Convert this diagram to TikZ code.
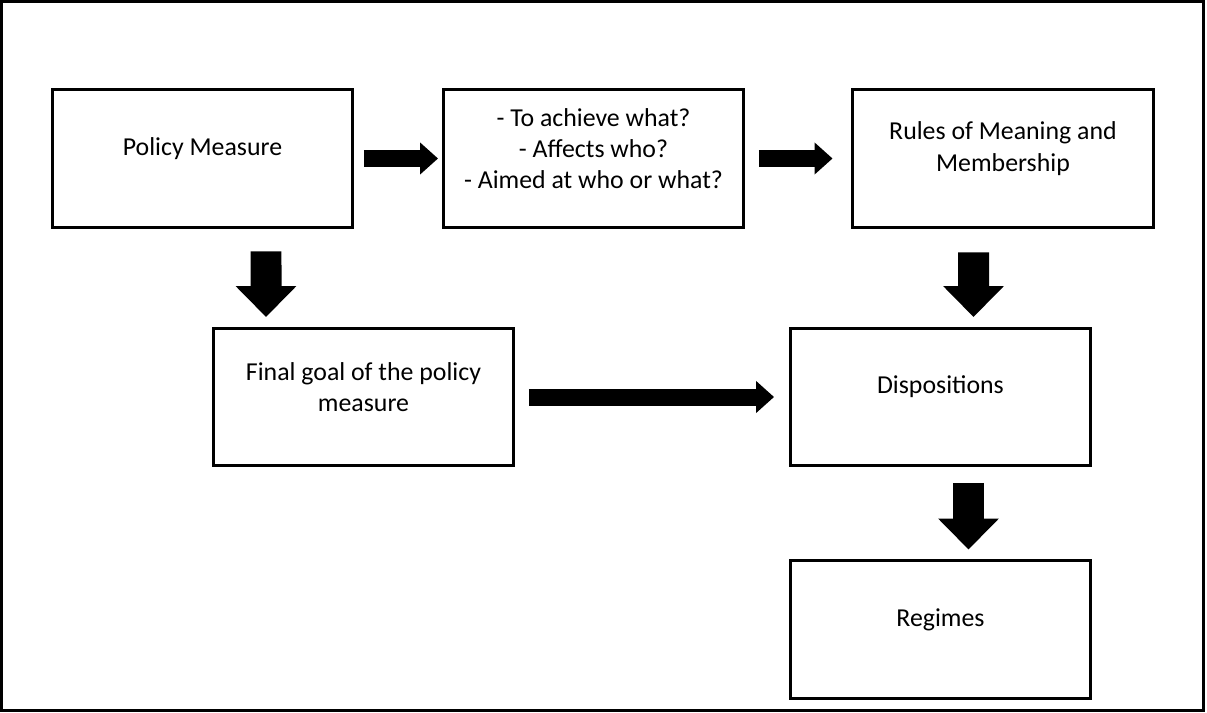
\documentclass[tikz,border=0pt]{standalone}
\usepackage{fontspec}
\setmainfont{Carlito}
\usetikzlibrary{arrows.meta}

\begin{document}
\begin{tikzpicture}[x=0.02cm, y=-0.02cm,
        box/.style={draw, line width=0.06cm, minimum width=6.02cm, minimum height=2.76cm, inner sep=0pt},
        boxtext/.style={yshift=0.2cm, align=center, font=\fontsize{14.7}{17.8}\selectfont},
        harrow/.style={line width=0.34cm, -{Triangle[width=0.62cm, length=0.36cm]}},
        varrow/.style={line width=0.62cm, -{Triangle[width=1.18cm, length=0.62cm]}}]
        \useasboundingbox (0,0) rectangle (1207,713);
        \draw[line width=0.06cm] (1.5,1.5) rectangle (1203.5,710);
        \node(pm)    at (202.5,158.5) [box, label={[boxtext]center:Policy Measure}] {};
        \node(aims)  at (593.5,158.5) [box, label={[boxtext]center:- To achieve what?\\- Affects who?\\- Aimed at who or what?}] {};
        \node(rules) at (1003,158.5)  [box, label={[boxtext]center:Rules of Meaning and\\Membership}] {};
        \node(goal)  at (363.5,397)   [box, label={[boxtext]center:Final goal of the policy\\measure}] {};
        \node(disp)  at (940.5,397)   [box, label={[boxtext]center:Dispositions}] {};
        \node(reg)   at (940.5,629.5) [box, label={[boxtext]center:Regimes}] {};
        \draw[harrow, shorten <=0.19cm, shorten >=0.07cm] (pm.east) -- (aims.west);
        \draw[harrow, shorten <=0.27cm, shorten >=0.37cm] (aims.east) -- (rules.west);
        \draw[harrow, shorten <=0.27cm, shorten >=0.29cm] (goal.east) -- (disp.west);
        \draw[varrow, shorten <=0.45cm, shorten >=0.19cm] ([xshift=1.27cm]pm.south) -- ([xshift=-1.95cm]goal.north);
        \draw[varrow, shorten <=0.47cm, shorten >=0.19cm] ([xshift=-0.59cm]rules.south) -- ([xshift=0.66cm]disp.north);
        \draw[varrow, shorten <=0.31cm, shorten >=0.19cm] ([xshift=0.56cm]disp.south) -- ([xshift=0.56cm]reg.north);
    \end{tikzpicture}
\end{document}
